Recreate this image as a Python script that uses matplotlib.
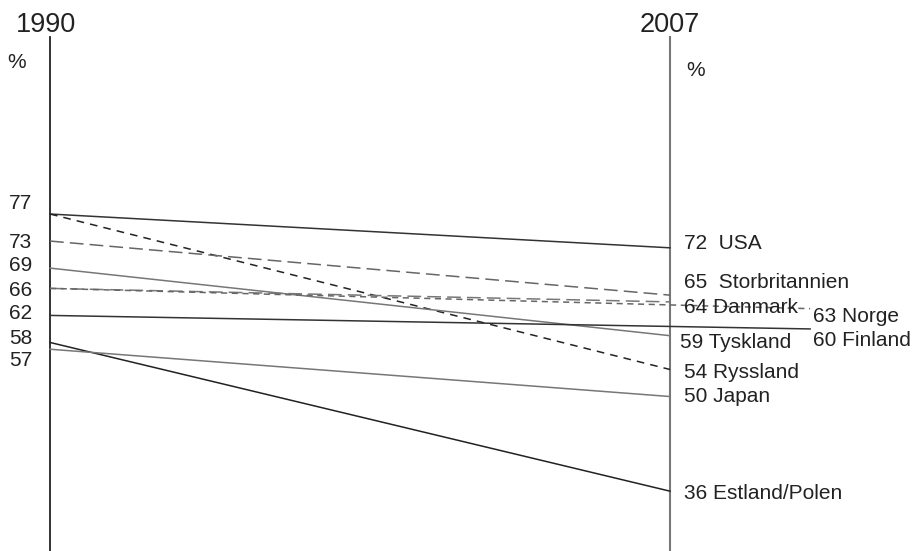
import matplotlib.pyplot as plt

# --- data ---
countries = ["USA", "Ryssland", "Storbritannien", "Tyskland", "Danmark",
             "Norge", "Finland", "Estland/Polen", "Japan"]
values_1990 = [77, 77, 73, 69, 66, 66, 62, 58, 57]
values_2007 = [72, 54, 65, 59, 64, 63, 60, 36, 50]
left_labels = [77, 73, 69, 66, 62, 58, 57]

# --- styling (kept apart from the data) ---
line_styles = {
    "USA": dict(color="#333333", ls="-"),
    "Ryssland": dict(color="#222222", ls=(0, (5, 4))),
    "Storbritannien": dict(color="#666666", ls=(0, (9, 4))),
    "Tyskland": dict(color="#777777", ls="-"),
    "Danmark": dict(color="#777777", ls=(0, (9, 4))),
    "Norge": dict(color="#666666", ls=(0, (4, 3))),
    "Finland": dict(color="#333333", ls="-"),
    "Estland/Polen": dict(color="#222222", ls="-"),
    "Japan": dict(color="#777777", ls="-"),
}
# countries whose line runs past the 2007 axis
extended = {"Norge": 1.226, "Finland": 1.226}
# label nudges in points (positive = up)
left_nudge = {77: 7.5, 73: -1, 69: 2, 66: -1.5, 62: 1.5, 58: 3, 57: -8}
right_nudge = {"USA": 3, "Ryssland": -2.5, "Storbritannien": 9, "Tyskland": -5,
               "Danmark": -4, "Norge": -6, "Finland": -8, "Estland/Polen": -2,
               "Japan": 0}
right_text = {"USA": "72  USA", "Storbritannien": "65  Storbritannien"}

plt.rcParams['font.family'] = ['Liberation Sans', 'DejaVu Sans']
FS = 15

fig = plt.figure(figsize=(9.17, 5.51), dpi=100)
ax = fig.add_axes([0, 0, 1, 1])
ax.set_xlim(-50 / 620, 867 / 620)
ax.set_ylim(27.15, 108.66)
ax.axis("off")
trans = ax.get_xaxis_transform()

# the two year axes
ax.axvline(0, ymin=0, ymax=1 - 37 / 551, color="#222222", lw=1.3)
ax.axvline(1, ymin=0, ymax=1 - 37 / 551, color="#777777", lw=1.5)
ax.text(-4 / 620, 1 - 24.5 / 551, "1990", transform=trans,
        ha="center", va="center", fontsize=19.5, color="#222222")
ax.text(1, 1 - 24.5 / 551, "2007", transform=trans,
        ha="center", va="center", fontsize=19.5, color="#222222")
ax.text(-33 / 620, 1 - 62 / 551, "%", transform=trans,
        ha="center", va="center", fontsize=FS, color="#222222")
ax.text(1 + 26 / 620, 1 - 70 / 551, "%", transform=trans,
        ha="center", va="center", fontsize=FS, color="#222222")

# slope lines
for name, v0, v1 in zip(countries, values_1990, values_2007):
    st = line_styles[name]
    x_end = extended.get(name, 1.0)
    ax.plot([0, x_end], [v0, v1], color=st["color"], linestyle=st["ls"], lw=1.1)
    label = right_text.get(name, f"{v1} {name}")
    if name in extended:
        dx = 2
    elif name == "Tyskland":
        dx = 7
    else:
        dx = 10
    ax.annotate(label, (x_end, v1), xytext=(dx, right_nudge[name]),
                textcoords="offset points", ha="left", va="center",
                fontsize=FS, color="#222222")

# 1990 value labels
for v in left_labels:
    ax.annotate(str(v), (0, v), xytext=(-13, left_nudge[v]),
                textcoords="offset points", ha="right", va="center",
                fontsize=FS, color="#222222")

fig.savefig("out.png", dpi=100)
